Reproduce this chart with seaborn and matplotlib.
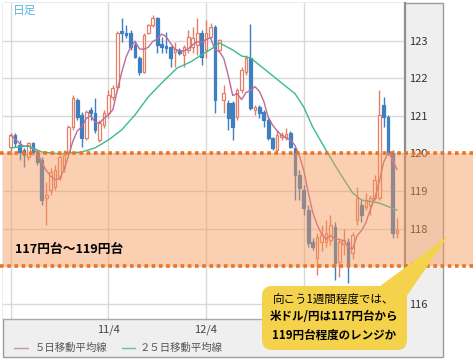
import matplotlib
matplotlib.use("Agg")
import matplotlib.pyplot as plt
import matplotlib.transforms as mtransforms
from matplotlib.patches import Rectangle, FancyBboxPatch, Polygon
import seaborn as sns
import numpy as np
import pandas as pd

# ---------------- data (USD/JPY daily candles) ----------------
opens = [120.17, 120.49, 120.23, 120.09, 119.91, 120.28, 120.01, 119.83, 118.81, 119.03,
         119.11, 119.37, 119.61, 120.01, 120.71, 121.43, 121.03, 120.41, 121.16, 121.08,
         120.36, 120.76, 121.08, 121.51, 121.77, 123.27, 123.20, 123.21, 122.89, 122.55,
         122.17, 123.21, 123.43, 123.61, 122.92, 122.87, 122.84, 122.71, 122.76, 122.63,
         122.76, 122.84, 122.89, 123.21, 122.76, 123.11, 123.37, 122.76, 121.43, 121.35,
         121.35, 120.97, 121.69, 122.17, 122.55, 121.16, 121.24, 121.11, 120.89, 120.41,
         120.09, 120.44, 120.44, 120.55, 120.15, 119.43, 119.03, 118.49, 117.64, 117.21,
         117.64, 117.64, 117.69, 118.04, 117.11, 117.60, 117.64, 117.35, 118.23, 118.63,
         118.57, 118.63, 118.81, 118.81, 121.30, 120.97, 120.01, 117.88]
highs = [120.55, 120.55, 120.36, 120.15, 120.31, 120.31, 120.09, 119.91, 119.24, 119.61,
         119.69, 119.96, 120.09, 120.76, 121.56, 121.48, 121.11, 121.16, 121.24, 121.48,
         120.89, 121.16, 121.69, 121.83, 123.27, 123.61, 123.43, 123.29, 122.97, 122.60,
         123.20, 123.45, 123.69, 123.65, 123.10, 123.24, 122.87, 122.97, 122.80, 122.90,
         123.29, 123.37, 123.60, 123.29, 123.55, 123.48, 123.43, 123.05, 121.83, 121.43,
         121.40, 121.75, 122.30, 122.63, 123.45, 121.30, 121.30, 121.16, 120.97, 120.45,
         120.63, 120.57, 120.68, 120.60, 120.17, 119.56, 119.16, 118.63, 117.75, 117.88,
         118.10, 118.23, 118.36, 118.17, 117.75, 118.00, 117.75, 117.90, 119.11, 118.76,
         118.95, 118.89, 119.43, 121.69, 121.51, 121.03, 120.09, 118.28]
lows = [119.96, 120.17, 119.83, 119.64, 119.83, 119.96, 119.69, 118.63, 118.09, 118.89,
        119.03, 119.29, 119.51, 119.96, 120.63, 120.89, 120.17, 120.36, 120.89, 120.55,
        120.31, 120.68, 120.95, 121.43, 121.69, 122.97, 123.08, 122.76, 122.55, 122.10,
        122.15, 123.18, 123.37, 122.68, 122.68, 122.68, 122.31, 122.31, 122.63, 122.31,
        122.68, 122.68, 122.63, 122.36, 122.55, 123.08, 121.08, 122.70, 121.08, 120.63,
        120.36, 120.90, 121.60, 122.10, 121.16, 121.03, 120.95, 120.71, 120.36, 120.09,
        120.04, 120.36, 120.36, 120.15, 118.76, 118.76, 118.36, 117.51, 117.43, 116.76,
        117.40, 117.51, 117.55, 116.63, 116.70, 117.30, 116.55, 117.20, 118.09, 118.17,
        118.49, 118.36, 118.76, 118.76, 120.71, 119.96, 117.75, 117.75]
closes = [120.49, 120.28, 120.04, 119.96, 120.28, 120.04, 119.77, 118.76, 118.89, 119.51,
          119.56, 119.91, 119.96, 120.71, 121.48, 120.97, 120.41, 121.11, 121.08, 120.63,
          120.81, 121.08, 121.56, 121.75, 123.21, 123.21, 123.15, 122.84, 122.57, 122.17,
          123.16, 123.43, 123.61, 122.89, 122.84, 122.81, 122.55, 122.79, 122.68, 122.84,
          123.11, 123.08, 123.21, 122.57, 123.21, 123.37, 121.43, 123.03, 121.61, 120.95,
          120.71, 121.69, 122.23, 122.55, 121.21, 121.24, 121.08, 120.89, 120.41, 120.15,
          120.49, 120.49, 120.52, 120.17, 119.43, 119.08, 118.55, 117.61, 117.51, 117.77,
          117.83, 117.88, 118.09, 117.08, 117.64, 117.70, 117.03, 117.83, 118.81, 118.36,
          118.76, 118.81, 119.29, 121.03, 120.97, 120.01, 117.88, 117.96]

# 25-day moving average (day index, value)
ma25_day = [0, 4, 7, 11, 13, 16, 19, 22, 25, 28, 31, 34, 37.5, 40.5, 43, 45.5, 47,
            50, 52, 54, 58, 61, 64, 66, 68, 71, 74, 77, 79, 83, 87]
ma25_val = [120.15, 120.20, 120.04, 119.99, 120.01, 120.04, 120.15, 120.36, 120.63,
            121.03, 121.51, 121.88, 122.28, 122.44, 122.63, 122.81, 122.95, 122.76,
            122.60, 122.55, 122.17, 121.88, 121.60, 121.24, 120.71, 120.09, 119.50,
            118.95, 118.76, 118.68, 118.49]

date_ticks = [0, 22, 44, 66]
date_labels = ["", "11/4", "12/4", ""]   # 1/4 sits behind the callout in the reference
y_ticks = [116, 117, 118, 119, 120, 121, 122, 123]
band_low, band_high = 117, 120

band_text = "117円台～119円台"
callout_lines = ["向こう1週間程度では、", "米ドル/円は117円台から", "119円台程度のレンジか"]
legend_labels = ["５日移動平均線", "２５日移動平均線"]

# ---------------- style ----------------
sns.set_theme(style="white")
plt.rcParams['font.family'] = ['Noto Sans CJK JP', 'DejaVu Sans']

UP_EDGE = '#e57e66'
DOWN = '#3d7fc0'
MA5_C = '#bf6a97'
MA25_C = '#3dba8c'

W, H = 473, 359
fig = plt.figure(figsize=(W / 100, H / 100), dpi=100)
fig.patch.set_facecolor('white')


def fx(px):
    return px / W


def fy(py):
    return 1 - py / H


# background panel (pixel coordinates)
bg = fig.add_axes([0, 0, 1, 1], zorder=0)
bg.set_xlim(0, W)
bg.set_ylim(H, 0)
bg.axis('off')
bg.add_patch(Rectangle((405, 3), 38, 316, facecolor='#efefef', edgecolor='none'))
bg.add_patch(Rectangle((3, 319), 440, 38, facecolor='#efefef', edgecolor='none'))
bg.add_patch(Rectangle((2.5, 2.5), 440.5, 354.5, facecolor='none', edgecolor='#9c9c9c', lw=1))

# main axes
ax = fig.add_axes([fx(3), fy(319), fx(405) - fx(3), fy(3) - fy(319)], zorder=1)
ax.set_facecolor('white')
ax.set_xlim(-1.73, 88.8)
ax.set_ylim(115.587, 124.013)

days = np.arange(len(opens))
df = pd.DataFrame({'day': days, 'open': opens, 'high': highs, 'low': lows, 'close': closes})
df['ma5'] = df['close'].rolling(5, min_periods=1).mean()
up = df['close'] >= df['open']

ax.set_yticks(y_ticks)
ax.set_xticks(date_ticks)
ax.set_xticklabels(date_labels)
ax.grid(True, color='#d9d9d9', lw=1)
ax.set_axisbelow(True)
ax.yaxis.tick_right()
ax.tick_params(axis='y', length=0, pad=3, labelsize=8, labelcolor='#333333')
ax.tick_params(axis='x', length=0, pad=4, labelsize=8, labelcolor='#444444')
for s in ['left', 'top']:
    ax.spines[s].set_visible(False)
ax.spines['right'].set_color('#8f8f8f')
ax.spines['right'].set_linewidth(1.6)
ax.spines['bottom'].set_color('#aaaaaa')
ax.spines['bottom'].set_linewidth(1)

edge_cols = np.where(up, UP_EDGE, DOWN)
face_cols = np.where(up, 'white', DOWN)
ax.vlines(df['day'], df['low'], df['high'], colors=edge_cols, lw=1, zorder=2)
body_bottom = np.minimum(df['open'], df['close'])
body_h = np.maximum(np.abs(df['close'] - df['open']), 0.03)
ax.bar(df['day'], body_h, bottom=body_bottom, width=0.6, color=face_cols,
       edgecolor=edge_cols, linewidth=0.9, zorder=3)

sns.lineplot(x=df['day'], y=df['ma5'], ax=ax, color=MA5_C, lw=1, zorder=4)
sns.lineplot(x=ma25_day, y=ma25_val, ax=ax, color=MA25_C, lw=1, zorder=4)
ax.set_xlabel('')
ax.set_ylabel('')

# overlay (pixel x, pixel y) for band, annotations, legend
ov = fig.add_axes([0, 0, 1, 1], zorder=5)
ov.set_xlim(0, W)
ov.set_ylim(H, 0)
ov.axis('off')
ov.patch.set_visible(False)

blend = mtransforms.blended_transform_factory(ov.transData, ax.transData)
ov.add_patch(Rectangle((3, band_low), W - 3, band_high - band_low, transform=blend,
                       facecolor='#f79755', alpha=0.46, edgecolor='none', zorder=1))
for yv in (band_low, band_high):
    ov.plot([0, W], [yv, yv], transform=blend, color='#ec7420', lw=2.6,
            linestyle=(0, (1, 1)), zorder=2, solid_capstyle='butt')

ov.text(15, 249, band_text, fontsize=9.2, fontweight='bold', color='black',
        va='center', ha='left', zorder=3)

ov.text(13, 10, '日足', fontsize=8.5, color='#5ab9e2', va='center', ha='left')

# legend row
ov.plot([14, 28], [348, 348], color='#d28fa0', lw=1)
ov.text(35, 348, legend_labels[0], fontsize=7.5, color='#555555', va='center', ha='left')
ov.plot([122, 135], [348, 348], color='#5cc6a4', lw=1)
ov.text(140, 348, legend_labels[1], fontsize=7.5, color='#555555', va='center', ha='left')

# callout
CALL = '#f5d24c'
ov.add_patch(FancyBboxPatch((262, 286), 145, 64, boxstyle='round,pad=0,rounding_size=10',
                            facecolor=CALL, edgecolor='none', zorder=6))
ov.add_patch(Polygon([(372, 292), (404, 300), (448, 236)], closed=True,
                     facecolor=CALL, edgecolor='none', zorder=6))
ov.text(334, 299, callout_lines[0], fontsize=8.3, color='black', ha='center', va='center', zorder=7)
ov.text(334, 317, callout_lines[1], fontsize=8.3, fontweight='bold', color='black',
        ha='center', va='center', zorder=7)
ov.text(334, 335, callout_lines[2], fontsize=8.3, fontweight='bold', color='black',
        ha='center', va='center', zorder=7)

fig.savefig('out.png', dpi=100)
